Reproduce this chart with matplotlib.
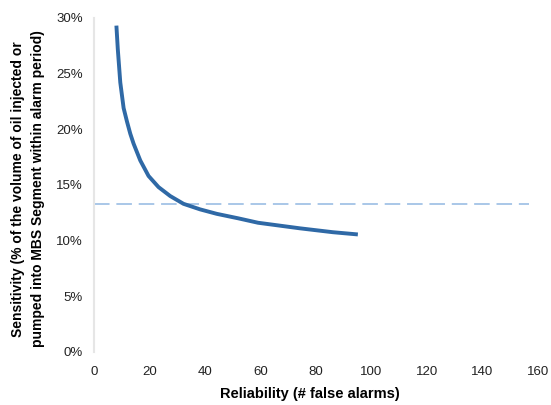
import matplotlib
matplotlib.use('Agg')
import matplotlib.pyplot as plt
from matplotlib.ticker import PercentFormatter

plt.rcParams['font.family'] = ['Liberation Sans Narrow', 'Liberation Sans', 'DejaVu Sans']

# curve (false alarms, sensitivity %)
reliability = [8.0, 8.5, 9.4, 10.6, 11.8, 13.0, 14.2, 16.6, 19.6, 23.2,
               27.4, 32.2, 38.2, 44.2, 51.9, 59.1, 74.2, 86.1, 95.1]
sensitivity = [29.3, 27.2, 24.2, 21.9, 20.7, 19.6, 18.7, 17.2, 15.8, 14.8,
               14.0, 13.3, 12.8, 12.4, 12.0, 11.6, 11.1, 10.75, 10.55]
threshold_x = [0, 157]
threshold_y = [13.3, 13.3]

xticks = [0, 20, 40, 60, 80, 100, 120, 140, 160]
yticks = [0, 5, 10, 15, 20, 25, 30]

fig = plt.figure(figsize=(5.51, 4.05), dpi=100)
ax = fig.add_axes([0.171, 0.131, 0.805, 0.825])

ax.plot(threshold_x, threshold_y, color='#a9c7e8', linewidth=1.4, linestyle=(0, (8, 3.5)))
ax.plot(reliability, sensitivity, color='#2f69a6', linewidth=2.8,
        solid_capstyle='butt', solid_joinstyle='round')

ax.set_xlim(0, 160)
ax.set_ylim(0, 30)
ax.set_xticks(xticks)
ax.set_yticks(yticks)
ax.yaxis.set_major_formatter(PercentFormatter(decimals=0))
ax.tick_params(length=0, labelsize=9.5, colors='#222222')
ax.tick_params(axis='y', pad=8)
ax.tick_params(axis='x', pad=10)

for s in ['top', 'right', 'bottom']:
    ax.spines[s].set_visible(False)
ax.spines['left'].set_color('#e6e6e6')
ax.spines['left'].set_linewidth(1.5)

ax.set_xlabel('Reliability (# false alarms)', fontsize=10.5, fontweight='bold')
ax.xaxis.set_label_coords(0.486, -0.105)
ax.set_ylabel('Sensitivity (% of the volume of oil injected or\npumped into MBS Segment within alarm period)',
              fontsize=10, fontweight='bold', linespacing=1.55)
ax.yaxis.set_label_coords(-0.11, 0.488)

fig.savefig('out.png', dpi=100)
